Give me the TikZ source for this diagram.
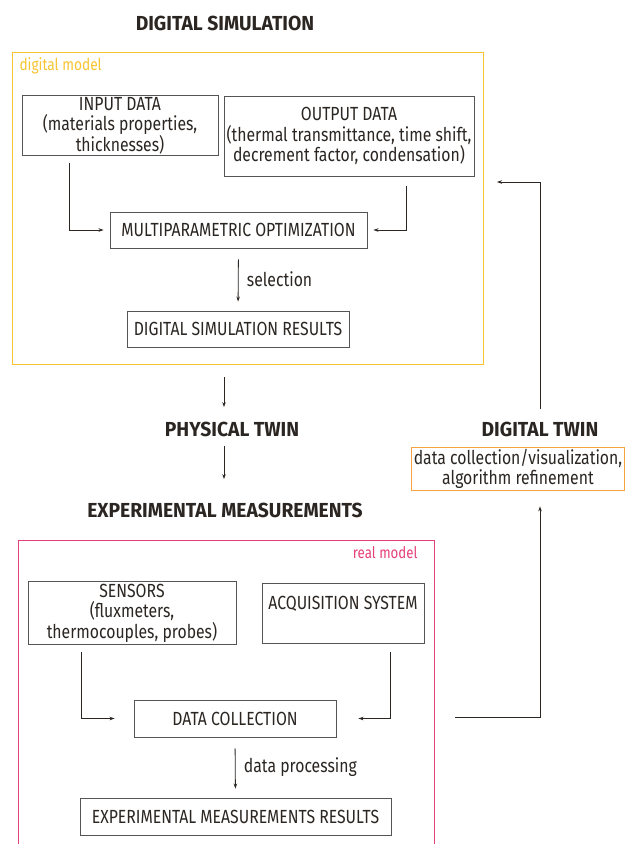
\documentclass[tikz,border=0pt]{standalone}
\usepackage{fontspec}
\setmainfont[FakeStretch=0.83]{Fira Sans}
\newfontfamily\headfont[FakeStretch=0.95]{Fira Sans}
\usetikzlibrary{arrows.meta, positioning}

\definecolor{ink}{HTML}{2B2622}
\definecolor{boxgray}{HTML}{555555}
\definecolor{modelyellow}{HTML}{F7C532}
\definecolor{modelpink}{HTML}{E6407A}
\definecolor{twinorange}{HTML}{F4A340}

\tikzset{
  box/.style={draw=boxgray, line width=0.9pt, text=ink, align=center, inner sep=2pt},
  heading/.style={text=ink, font=\headfont\fontsize{20.3}{23}\selectfont\bfseries},
  flow/.style={draw=ink, line width=0.8pt, -{Stealth[length=5pt,width=3.5pt]}},
  note/.style={text=ink},
  tag/.style={font=\fontsize{16.5}{19}\selectfont}
}

\begin{document}
\begin{tikzpicture}[x=1pt, y=-1pt, font=\fontsize{19}{20.5}\selectfont]
    \useasboundingbox[fill=white] (0,0) rectangle (629,844);

    % Digital simulation block
    \node[heading] (simtitle) at (225,23) {DIGITAL SIMULATION};
    \draw[modelyellow, line width=1pt] (12,52) rectangle (483,364);
    \node[tag, anchor=west, text=modelyellow] (digmodel) at (16,66) {digital model};

    \node[box, minimum width=196, minimum height=59] (input) at (120,125.5) {INPUT DATA\\(materials properties,\\thicknesses)};
    \node[box, minimum width=250, minimum height=80] (output) at (349,136) {OUTPUT DATA\\(thermal transmittance, time shift,\\decrement factor, condensation)};
    \node[box, minimum width=257, minimum height=36] (multi) at (238.5,230) {MULTIPARAMETRIC OPTIMIZATION};
    \node[box, minimum width=222, minimum height=36] (simres) at (238,329) {DIGITAL SIMULATION RESULTS};

    \coordinate (inleft) at (69,163);
    \coordinate (outright) at (406,186);
    \draw[flow, shorten >=6pt] (inleft) |- (multi.west);
    \draw[flow, shorten >=6pt] (outright) |- (multi.east);
    \draw[flow, shorten <=11pt, shorten >=9pt] (multi.south) -- (simres.north)
        node[note, midway, right=5pt] {selection};

    % Physical twin
    \coordinate (simdown) at (224,377);
    \node[heading] (phys) at (232,429) {PHYSICAL TWIN};
    \node[heading] (expm) at (225,510) {EXPERIMENTAL MEASUREMENTS};
    \draw[flow, shorten >=11pt] (simdown) -- (simdown |- phys.north);
    \draw[flow, shorten <=6pt, shorten >=20pt] (simdown |- phys.south) -- (simdown |- expm.north);

    % Experimental block
    \draw[modelpink, line width=1pt] (18,850) |- (434,540) -- (434,850);
    \node[tag, font=\fontsize{16}{19}\selectfont, anchor=east, text=modelpink] (realmodel) at (421,553) {real model};

    \node[box, minimum width=208, minimum height=60] (sensors) at (132,613) {SENSORS\\(fluxmeters,\\thermocouples, probes)};
    \node[box, minimum width=162, minimum height=60] (acq) at (343,613) {ACQUISITION SYSTEM\\\mbox{}};
    \node[box, minimum width=202, minimum height=37] (datacoll) at (235,718.5) {DATA COLLECTION};
    \node[box, minimum width=311, minimum height=37] (expres) at (235.5,816.5) {EXPERIMENTAL MEASUREMENTS RESULTS};

    \coordinate (sensleft) at (81,652);
    \coordinate (acqright) at (390,652);
    \draw[flow, shorten >=19pt] (sensleft) |- (datacoll.west);
    \draw[flow, shorten >=22pt] (acqright) |- (datacoll.east);
    \draw[flow, shorten <=11pt, shorten >=9pt] (datacoll.south) -- (expres.north)
        node[note, midway, right=5pt] {data processing};

    % Digital twin and feedback loop
    \node[heading] (dtwin) at (540,429) {DIGITAL TWIN};
    \node[box, draw=twinorange, minimum width=212, minimum height=42] (dtbox) at (518,469) {data collection/visualization,\\algorithm refinement};

    \coordinate (expout) at (455,717);
    \coordinate (simin) at (497,182);
    \draw[flow] (expout) -| ([xshift=22pt, yshift=-15pt]dtbox.south);
    \draw[flow, shorten <=9pt] (dtwin.north) |- (simin);
\end{tikzpicture}
\end{document}
